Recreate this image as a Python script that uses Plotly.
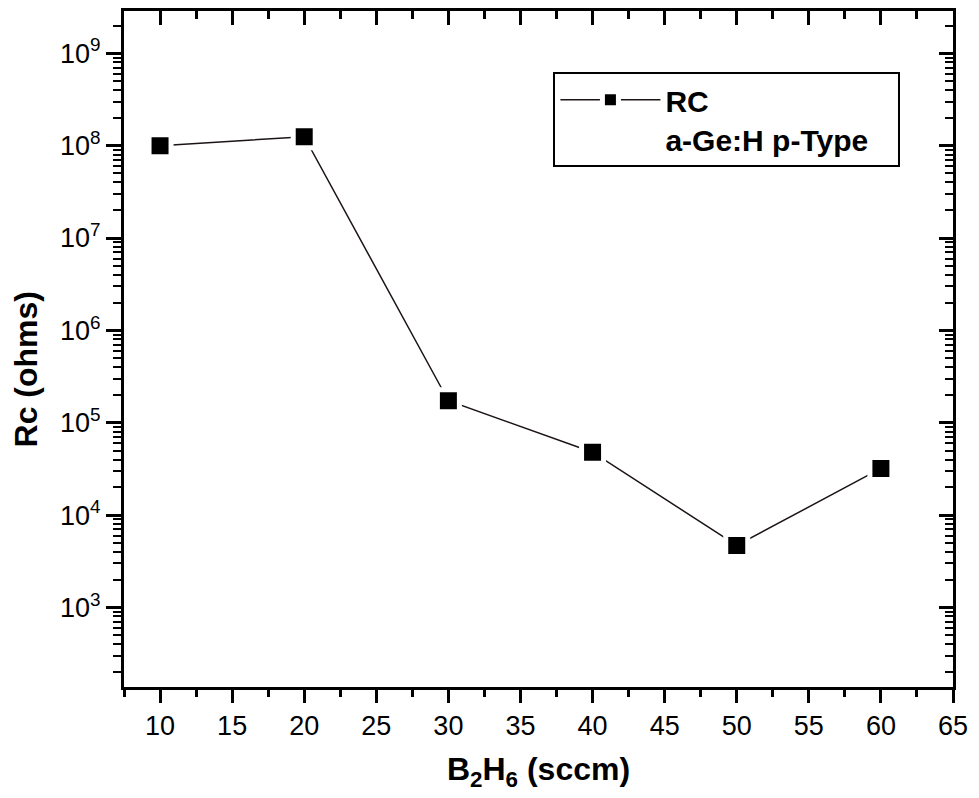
import plotly.graph_objects as go

# Data
b2h6_sccm = [10, 20, 30, 40, 50, 60]
rc_ohms = [1.0e8, 1.25e8, 1.73e5, 4.8e4, 4.7e3, 3.2e4]

series_name = "RC"
sample_label = "a-Ge:H p-Type"
x_title = "B<sub>2</sub>H<sub>6</sub> (sccm)"
y_title = "Rc (ohms)"

x_ticks = [10, 15, 20, 25, 30, 35, 40, 45, 50, 55, 60, 65]
y_exponents = [3, 4, 5, 6, 7, 8, 9]
y_tickvals = [10 ** e for e in y_exponents]
y_ticktext = ["10<sup>%d</sup>" % e for e in y_exponents]
y_minor = [k * 10 ** e for e in range(2, 10) for k in range(2, 10)]

x_range = [7.5, 65]
y_range = [2.139, 9.458]

FONT = "Liberation Sans, Arial, sans-serif"

fig = go.Figure()
fig.add_trace(go.Scatter(
    x=b2h6_sccm, y=rc_ohms, mode="lines+markers",
    name="<b>" + series_name + "</b><br><b>" + sample_label + "</b>&nbsp;&nbsp;&nbsp;",
    line=dict(color="#1c1414", width=1.5),
    marker=dict(symbol="square", size=22, color="black",
                line=dict(color="white", width=5)),
))
# invisible companion trace so the mirrored (top/right) axes are drawn
fig.add_trace(go.Scatter(
    x=b2h6_sccm, y=rc_ohms, mode="markers", xaxis="x2", yaxis="y2",
    marker=dict(opacity=0), showlegend=False, hoverinfo="skip",
))

axis_common = dict(showline=True, linecolor="black", linewidth=3,
                   showgrid=False, zeroline=False, tickcolor="black",
                   tickwidth=3)
x_minor = [v + 2.5 for v in [5] + x_ticks[:-1]]

fig.update_layout(
    width=979, height=798,
    margin=dict(l=124, r=19, t=11, b=111),
    paper_bgcolor="white", plot_bgcolor="white",
    font=dict(family=FONT, color="black", size=27),
    showlegend=True,
    xaxis=dict(**axis_common, range=x_range, tickmode="array",
               tickvals=x_ticks, ticks="outside", ticklen=13,
               tickfont=dict(size=27),
               minor=dict(tickmode="array", tickvals=x_minor,
                          ticks="outside", ticklen=7, tickwidth=3,
                          tickcolor="black"),
               title=dict(text="<b>" + x_title + "</b>",
                          font=dict(size=32), standoff=18)),
    yaxis=dict(**axis_common, type="log", range=y_range, tickmode="array",
               tickvals=y_tickvals, ticktext=y_ticktext, ticks="outside",
               ticklen=15, tickfont=dict(size=27),
               minor=dict(tickmode="array", tickvals=y_minor,
                          ticks="outside", ticklen=8, tickwidth=2,
                          tickcolor="black")),
    xaxis2=dict(**axis_common, overlaying="x", side="top", anchor="y2",
                range=x_range, tickmode="array", tickvals=x_ticks,
                ticks="inside", ticklen=14, showticklabels=False,
                minor=dict(tickmode="array", tickvals=x_minor,
                           ticks="inside", ticklen=8, tickwidth=3,
                           tickcolor="black")),
    yaxis2=dict(**axis_common, overlaying="y", side="right", anchor="x2",
                type="log", range=y_range, tickmode="array",
                tickvals=y_tickvals, ticks="inside", ticklen=14,
                showticklabels=False,
                minor=dict(tickmode="array", tickvals=y_minor,
                           ticks="inside", ticklen=8, tickwidth=2,
                           tickcolor="black")),
    legend=dict(x=0.518, y=0.91, xanchor="left", yanchor="top",
                bordercolor="black", borderwidth=2, bgcolor="white",
                valign="top", itemwidth=100,
                font=dict(family=FONT, size=30, color="black"),
                tracegroupgap=0),
    annotations=[dict(text="<b>" + y_title + "</b>", textangle=-90,
                      xref="paper", yref="paper", x=-0.118, y=0.47,
                      xanchor="center", yanchor="middle", showarrow=False,
                      font=dict(family=FONT, size=32, color="black"))],
)

fig.write_html("out.html")
